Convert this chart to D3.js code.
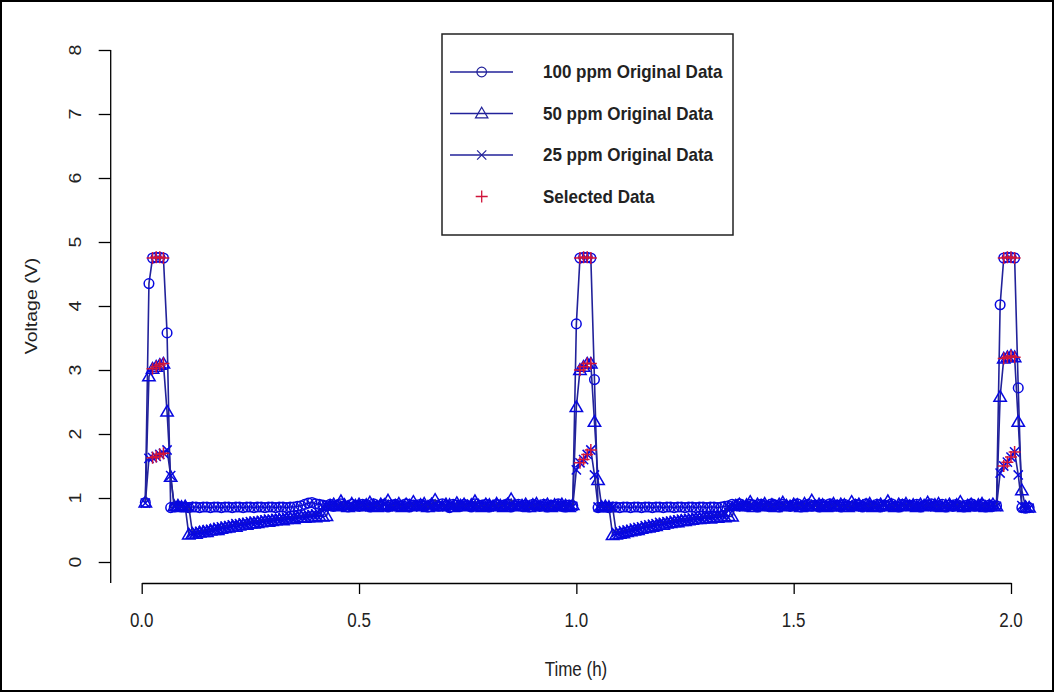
<!DOCTYPE html>
<html>
<head>
<meta charset="utf-8">
<script src="https://cdn.jsdelivr.net/npm/d3@7/dist/d3.min.js"></script>
<style>
  html, body { margin: 0; padding: 0; background: #fff; }
  svg { display: block; }
  text { font-family: "Liberation Sans", Arial, sans-serif; }
</style>
</head>
<body>
<svg id="chart" width="1055" height="694"></svg>
<script>
// ---------------- DATA ----------------
// Samples taken every 30 s (1/120 h); first sample at 1/120 h.
const sampleStepHours = 1 / 120;

const ppm100 = [
  0.93,4.35,4.75,4.76,4.76,4.75,3.58,0.85,
  0.86,0.87,0.86,0.86,0.85,0.86,0.86,0.85,0.86,0.86,
  0.85,0.86,0.86,0.85,0.86,0.86,0.85,0.86,0.86,0.85,
  0.86,0.86,0.85,0.86,0.86,0.85,0.86,0.86,0.85,0.86,
  0.86,0.85,0.86,0.86,0.87,0.88,0.9,0.92,0.93,0.91,
  0.9,0.89,0.88,0.9,0.87,0.89,0.91,0.88,0.86,0.9,
  0.88,0.87,0.9,0.89,0.86,0.91,0.88,0.87,0.9,0.86,
  0.89,0.9,0.87,0.88,0.91,0.86,0.89,0.88,0.9,0.87,
  0.86,0.9,0.89,0.87,0.91,0.88,0.85,0.9,0.89,0.87,
  0.9,0.88,0.86,0.91,0.87,0.89,0.9,0.86,0.88,0.9,
  0.87,0.89,0.91,0.86,0.88,0.9,0.87,0.89,0.86,0.9,
  0.88,0.87,0.9,0.86,0.89,0.88,0.91,0.87,0.86,0.89,0.88,
  3.72,4.75,4.76,4.76,4.75,2.85,0.85,
  0.86,0.86,0.85,0.86,0.86,0.85,0.86,0.86,0.85,0.86,
  0.86,0.85,0.86,0.86,0.85,0.86,0.86,0.85,0.86,0.86,
  0.85,0.86,0.86,0.85,0.86,0.86,0.85,0.86,0.86,0.85,
  0.86,0.86,0.85,0.86,0.87,0.88,0.9,0.89,0.91,0.88,
  0.87,0.9,0.89,0.86,0.9,0.88,0.87,0.91,0.89,0.86,
  0.9,0.88,0.87,0.89,0.91,0.86,0.88,0.9,0.87,0.89,
  0.86,0.9,0.88,0.91,0.87,0.89,0.86,0.9,0.88,0.87,
  0.9,0.89,0.86,0.91,0.88,0.87,0.9,0.86,0.89,0.88,
  0.91,0.87,0.86,0.9,0.88,0.89,0.87,0.9,0.86,0.88,
  0.89,0.91,0.87,0.88,0.9,0.86,0.89,0.87,0.9,0.88,
  0.86,0.89,0.91,0.87,0.88,0.9,0.86,0.89,0.87,0.88,
  4.02,4.75,4.76,4.76,4.75,2.72,0.85,0.84,0.85
];

const ppm50 = [
  0.93,2.9,3.02,3.05,3.08,3.1,2.35,1.33,0.87,
  0.88,0.86,0.87,
  0.43,0.44,0.44,0.46,0.47,0.47,0.49,0.5,0.5,0.52,
  0.53,0.54,0.55,0.55,0.57,0.58,0.58,0.6,0.6,0.61,
  0.62,0.63,0.63,0.64,0.65,0.66,0.65,0.67,0.68,0.67,
  0.69,0.7,0.69,0.7,0.71,0.7,0.72,0.71,0.72,
  0.88,0.9,0.87,0.95,0.89,0.86,0.91,0.88,0.9,0.87,
  0.89,0.93,0.88,0.86,0.9,0.89,0.96,0.87,0.88,0.91,
  0.86,0.9,0.88,0.94,0.87,0.89,0.91,0.86,0.9,0.97,
  0.88,0.87,0.9,0.89,0.86,0.92,0.88,0.9,0.87,0.89,
  0.95,0.88,0.86,0.9,0.89,0.87,0.91,0.88,0.86,0.9,
  0.98,0.89,0.87,0.88,0.9,0.86,0.89,0.91,0.87,0.88,
  0.9,0.86,0.89,0.87,0.9,0.88,0.86,0.89,
  2.42,3.0,3.05,3.1,3.1,2.19,1.28,
  0.86,0.87,0.86,
  0.42,0.43,0.44,0.45,0.47,0.48,0.49,0.5,0.52,0.53,
  0.54,0.55,0.56,0.58,0.58,0.6,0.61,0.62,0.62,0.64,
  0.64,0.65,0.66,0.67,0.67,0.68,0.69,0.68,0.7,0.69,
  0.71,0.7,0.72,0.71,
  0.88,0.9,0.87,0.89,0.94,0.86,0.9,0.88,0.91,0.87,
  0.89,0.86,0.9,0.93,0.88,0.87,0.9,0.89,0.86,0.91,
  0.88,0.96,0.87,0.9,0.89,0.86,0.88,0.91,0.87,0.9,
  0.89,0.86,0.94,0.88,0.9,0.87,0.89,0.91,0.86,0.88,
  0.9,0.87,0.95,0.89,0.86,0.9,0.88,0.91,0.87,0.89,
  0.86,0.9,0.88,0.93,0.87,0.89,0.91,0.86,0.88,0.9,
  0.87,0.89,0.94,0.86,0.88,0.9,0.87,0.89,0.91,0.86,
  0.88,0.9,0.87,
  2.58,3.18,3.2,3.22,3.2,2.19,1.12,0.86,0.85
];

const ppm25 = [
  0.92,1.62,1.63,1.65,1.68,1.7,1.75,1.35,0.87,
  0.86,0.87,0.86,0.87,
  0.46,0.47,0.48,0.49,0.5,0.51,0.52,0.54,0.55,0.56,
  0.57,0.58,0.6,0.6,0.61,0.62,0.63,0.64,0.64,0.65,
  0.66,0.67,0.67,0.68,0.68,0.69,0.7,0.7,0.71,0.72,
  0.72,0.73,0.74,0.74,0.75,0.76,
  0.86,0.88,0.87,0.89,0.86,0.9,0.88,0.87,0.89,0.86,
  0.88,0.9,0.87,0.86,0.89,0.88,0.87,0.9,0.86,0.88,
  0.89,0.87,0.86,0.9,0.88,0.87,0.89,0.86,0.88,0.9,
  0.87,0.89,0.86,0.88,0.87,0.9,0.88,0.86,0.89,0.87,
  0.88,0.9,0.86,0.87,0.89,0.88,0.86,0.9,0.87,0.88,
  0.89,0.86,0.88,0.87,0.9,0.88,0.86,0.89,0.87,0.88,
  0.9,0.86,0.87,0.89,0.88,0.87,0.9,0.86,0.88,0.87,
  1.44,1.55,1.6,1.68,1.75,1.36,0.86,
  0.87,0.86,0.87,0.86,
  0.46,0.47,0.49,0.5,0.51,0.53,0.54,0.55,0.57,0.58,
  0.59,0.6,0.62,0.62,0.63,0.64,0.65,0.66,0.67,0.67,
  0.68,0.69,0.7,0.7,0.71,0.72,0.72,0.73,0.74,0.74,0.75,
  0.87,0.88,0.86,0.89,0.87,0.9,0.88,0.86,0.89,0.87,
  0.88,0.9,0.86,0.87,0.89,0.88,0.86,0.9,0.87,0.88,
  0.89,0.86,0.88,0.87,0.9,0.88,0.86,0.89,0.87,0.88,
  0.9,0.86,0.87,0.89,0.88,0.87,0.9,0.86,0.88,0.87,
  0.89,0.88,0.86,0.9,0.87,0.88,0.89,0.86,0.88,0.87,
  0.9,0.88,0.86,0.89,0.87,0.88,0.9,0.86,0.87,0.89,
  0.88,0.87,0.9,0.86,0.88,0.87,0.89,0.88,0.86,0.9,
  0.87,0.88,0.86,0.89,0.87,
  1.39,1.5,1.56,1.64,1.72,1.36,0.88,0.86,0.84
];

// Sample indices flagged as "Selected Data" (plateau samples of each pulse)
const selectedIndices = [2,3,4,5,120,121,122,123,237,238,239,240];

const xTicks = [0, 0.5, 1.0, 1.5, 2.0];
const yTicks = [0, 1, 2, 3, 4, 5, 6, 7, 8];
const legendLabels = ["100 ppm Original Data", "50 ppm Original Data", "25 ppm Original Data", "Selected Data"];
const xTitle = "Time (h)";
const yTitle = "Voltage (V)";

// ---------------- DRAW ----------------
const lineColor = "#22229a";
const markColor = "#0808e0";
const selColor = "#d0143a";
const textStretch = 1.15; // glyphs in the reference are slightly tall/narrow

const svg = d3.select("#chart");
const x = d3.scaleLinear().domain([0, 2]).range([141.7, 1011]);
const y = d3.scaleLinear().domain([0, 8]).range([562, 50]);

const toPoints = arr => arr.map((v, i) => ({ t: (i + 1) * sampleStepHours, v }));
const series = [
  { name: legendLabels[0], pts: toPoints(ppm100), shape: "circle" },
  { name: legendLabels[1], pts: toPoints(ppm50), shape: "triangle" },
  { name: legendLabels[2], pts: toPoints(ppm25), shape: "cross" }
];

// outer frame
svg.append("rect").attr("x", 1).attr("y", 1).attr("width", 1052).attr("height", 690)
  .attr("fill", "none").attr("stroke", "#000").attr("stroke-width", 2);

// marker drawer
function drawMarker(g, shape, cx, cy, color, sw) {
  sw = sw || 1.4;
  if (shape === "circle") {
    g.append("circle").attr("cx", cx).attr("cy", cy).attr("r", 4.8)
      .attr("fill", "none").attr("stroke", color).attr("stroke-width", sw);
  } else if (shape === "triangle") {
    const s = 6.2;
    g.append("path")
      .attr("d", `M${cx},${cy - s}L${cx + s},${cy + s * 0.72}L${cx - s},${cy + s * 0.72}Z`)
      .attr("fill", "none").attr("stroke", color).attr("stroke-width", sw);
  } else if (shape === "cross") {
    const s = 4.6;
    g.append("path")
      .attr("d", `M${cx - s},${cy - s}L${cx + s},${cy + s}M${cx - s},${cy + s}L${cx + s},${cy - s}`)
      .attr("fill", "none").attr("stroke", color).attr("stroke-width", sw);
  } else if (shape === "plus") {
    const s = 6;
    g.append("path")
      .attr("d", `M${cx - s},${cy}L${cx + s},${cy}M${cx},${cy - s}L${cx},${cy + s}`)
      .attr("fill", "none").attr("stroke", color).attr("stroke-width", sw);
  }
}

const line = d3.line().x(d => x(d.t)).y(d => y(d.v));
const plot = svg.append("g");
series.forEach(s => {
  plot.append("path").datum(s.pts).attr("d", line)
    .attr("fill", "none").attr("stroke", lineColor).attr("stroke-width", 1.6);
  const mg = plot.append("g");
  s.pts.forEach(p => drawMarker(mg, s.shape, x(p.t), y(p.v), markColor, 1.5));
});

// selected data
const selG = plot.append("g");
series.forEach(s => {
  selectedIndices.forEach(i => {
    const p = s.pts[i];
    if (p) drawMarker(selG, "plus", x(p.t), y(p.v), selColor, 1.5);
  });
});

// axes
const xAxis = d3.axisBottom(x).tickValues(xTicks).tickFormat("")
  .tickSize(11).tickSizeOuter(0);
const gx = svg.append("g").attr("transform", "translate(0,583)").call(xAxis);
gx.select(".domain").attr("stroke", "#000").attr("stroke-width", 1.3);
gx.selectAll(".tick line").attr("stroke", "#000").attr("stroke-width", 1.3);
svg.append("g").selectAll("text").data(xTicks).join("text")
  .attr("transform", d => `translate(${x(d)},620) scale(1,${textStretch})`)
  .attr("text-anchor", "middle").attr("dominant-baseline", "central")
  .attr("font-size", 17).attr("fill", "#222").text(d3.format(".1f"));

const yAxis = d3.axisLeft(y).tickValues(yTicks).tickFormat("").tickSize(12).tickSizeOuter(0);
const gy = svg.append("g").attr("transform", "translate(110.7,0)").call(yAxis);
gy.select(".domain").remove();
gy.append("line").attr("x1", 0).attr("x2", 0).attr("y1", y(8)).attr("y2", 583)
  .attr("stroke", "#000").attr("stroke-width", 1.3);
gy.selectAll(".tick line").attr("stroke", "#000").attr("stroke-width", 1.3);
svg.append("g").selectAll("text").data(yTicks).join("text")
  .attr("transform", d => `translate(75,${y(d)}) scale(1,${textStretch}) rotate(-90)`)
  .attr("text-anchor", "middle").attr("dominant-baseline", "central")
  .attr("font-size", 17).attr("fill", "#222").text(d => d);

// titles
svg.append("text").attr("transform", `translate(576,669) scale(1,${textStretch})`)
  .attr("text-anchor", "middle").attr("dominant-baseline", "central")
  .attr("font-size", 17).attr("fill", "#222").text(xTitle);
svg.append("text").attr("transform", `translate(31,${(y(0) + y(8)) / 2}) scale(1,${textStretch}) rotate(-90)`)
  .attr("text-anchor", "middle").attr("dominant-baseline", "central")
  .attr("font-size", 17).attr("fill", "#222").text(yTitle);

// legend
const lg = svg.append("g");
lg.append("rect").attr("x", 442).attr("y", 34).attr("width", 291).attr("height", 201)
  .attr("fill", "#fff").attr("stroke", "#222").attr("stroke-width", 1.5);
const rowY = [72, 113.5, 155, 196.5];
const shapes = ["circle", "triangle", "cross", "plus"];
legendLabels.forEach((lab, i) => {
  if (i < 3) {
    lg.append("line").attr("x1", 450).attr("x2", 513).attr("y1", rowY[i]).attr("y2", rowY[i])
      .attr("stroke", lineColor).attr("stroke-width", 1.4);
    drawMarker(lg, shapes[i], 481.7, rowY[i], lineColor, 1.2);
  } else {
    drawMarker(lg, "plus", 481.7, rowY[i], selColor, 1.3);
  }
  lg.append("text").attr("transform", `translate(543,${rowY[i]}) scale(1,1.08)`)
    .attr("dominant-baseline", "central")
    .attr("font-size", 17).attr("font-weight", "bold").attr("fill", "#222").text(lab);
});
</script>
</body>
</html>
